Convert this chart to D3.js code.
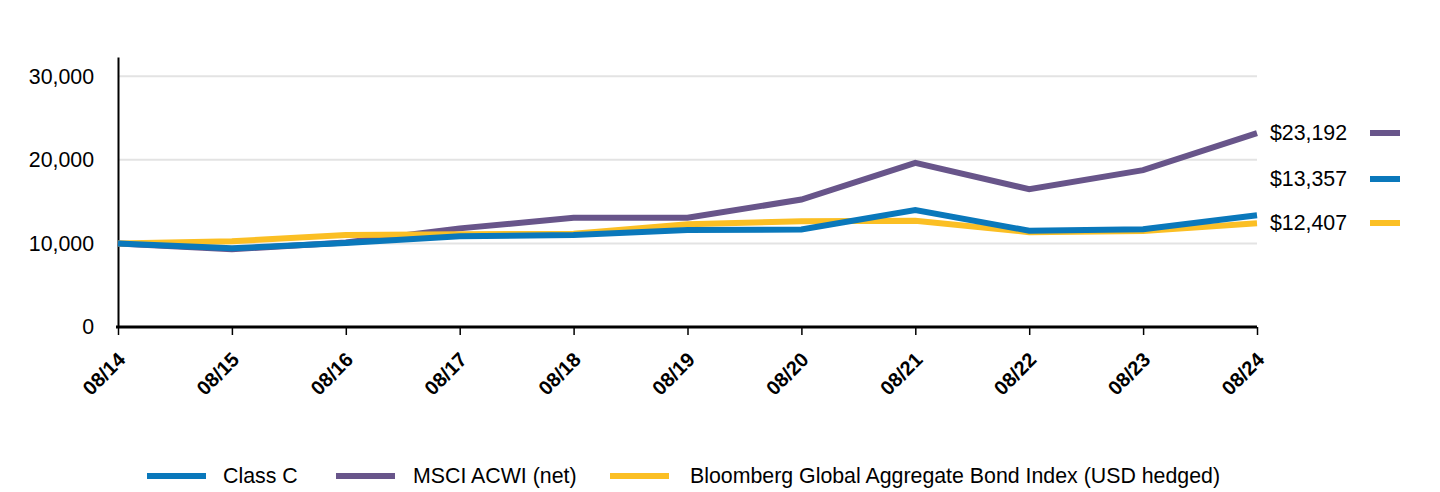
<!DOCTYPE html>
<html><head><meta charset="utf-8">
<script src="https://cdn.jsdelivr.net/npm/d3@7"></script>
<style>body{margin:0;background:#fff;font-family:"Liberation Sans",Arial,sans-serif}</style>
</head><body><svg id="c" width="1440" height="492"></svg>
<script>
const categories = ["08/14","08/15","08/16","08/17","08/18","08/19","08/20","08/21","08/22","08/23","08/24"];
const classC = [10000,9420,10050,10870,11000,11590,11670,13980,11520,11700,13357];
const msci = [10000,9300,10100,11800,13060,13060,15250,19630,16490,18760,23192];
const bloomberg = [10000,10250,11000,11100,11150,12300,12660,12700,11350,11470,12407];
const yTicks = [0,10000,20000,30000];
const seriesNames = ["Class C","MSCI ACWI (net)","Bloomberg Global Aggregate Bond Index (USD hedged)"];
const endLabels = ["$23,192","$13,357","$12,407"];
const colors = {c:"#0a78bb", m:"#68558a", b:"#fbbf24"};
const FF = "Liberation Sans, Arial, sans-serif";
const FS = 21.33;

const svg = d3.select("#c");
const L=118, R=1257, T=57, B=327;
const x = d3.scalePoint().domain(categories).range([L,R]);
const y = d3.scaleLinear().domain([0,32300]).range([B,T]);

// grid
svg.append("g").selectAll("line").data(yTicks.filter(d=>d>0)).join("line")
  .attr("x1",L).attr("x2",R).attr("y1",d=>y(d)).attr("y2",d=>y(d))
  .attr("stroke","#e3e3e3").attr("stroke-width",2);

// y axis
const ya = svg.append("g").attr("transform",`translate(${L},0)`)
  .call(d3.axisLeft(y).tickValues(yTicks).tickSize(0).tickPadding(24).tickFormat(d3.format(",")));
ya.select(".domain").attr("stroke","#000").attr("stroke-width",2);
ya.selectAll("text").attr("font-size",FS).attr("font-family",FF).attr("fill","#000");

// x axis
const xa = svg.append("g").attr("transform",`translate(0,${B})`)
  .call(d3.axisBottom(x).tickSize(8).tickSizeOuter(0));
xa.select(".domain").attr("stroke","#000").attr("stroke-width",3).attr("d",`M${L-2},0H${R}`);
xa.selectAll(".tick line").attr("stroke","#000").attr("stroke-width",1.5);
xa.selectAll("text").attr("font-size",20).attr("font-weight","bold")
  .attr("font-family",FF).attr("fill","#000")
  .attr("text-anchor","end").attr("y",0).attr("dy",0).attr("dx",0)
  .attr("transform","translate(8,34) rotate(-45)");

const line = d3.line().x((d,i)=>x(categories[i])).y(d=>y(d));
[[msci,colors.m],[bloomberg,colors.b],[classC,colors.c]].forEach(([data,col])=>{
  svg.append("path").datum(data).attr("d",line).attr("fill","none")
    .attr("stroke",col).attr("stroke-width",6).attr("stroke-linejoin","miter");
});

// end labels
const endData = [[endLabels[0],133,colors.m],[endLabels[1],179,colors.c],[endLabels[2],223,colors.b]];
endData.forEach(([t,yy,col])=>{
  svg.append("text").attr("x",1270).attr("y",yy).attr("dy","0.35em").attr("font-size",FS)
    .attr("font-family",FF).attr("fill","#000").text(t);
  svg.append("line").attr("x1",1370).attr("x2",1400).attr("y1",yy).attr("y2",yy)
    .attr("stroke",col).attr("stroke-width",6);
});

// legend
const leg = [[147,223,colors.c,seriesNames[0]],[336,413,colors.m,seriesNames[1]],[610,690,colors.b,seriesNames[2]]];
leg.forEach(([sx,tx,col,name])=>{
  svg.append("line").attr("x1",sx).attr("x2",sx+59).attr("y1",476).attr("y2",476)
    .attr("stroke",col).attr("stroke-width",6);
  svg.append("text").attr("x",tx).attr("y",476).attr("dy","0.35em").attr("font-size",FS)
    .attr("font-family",FF).attr("fill","#000").text(name);
});
</script></body></html>
